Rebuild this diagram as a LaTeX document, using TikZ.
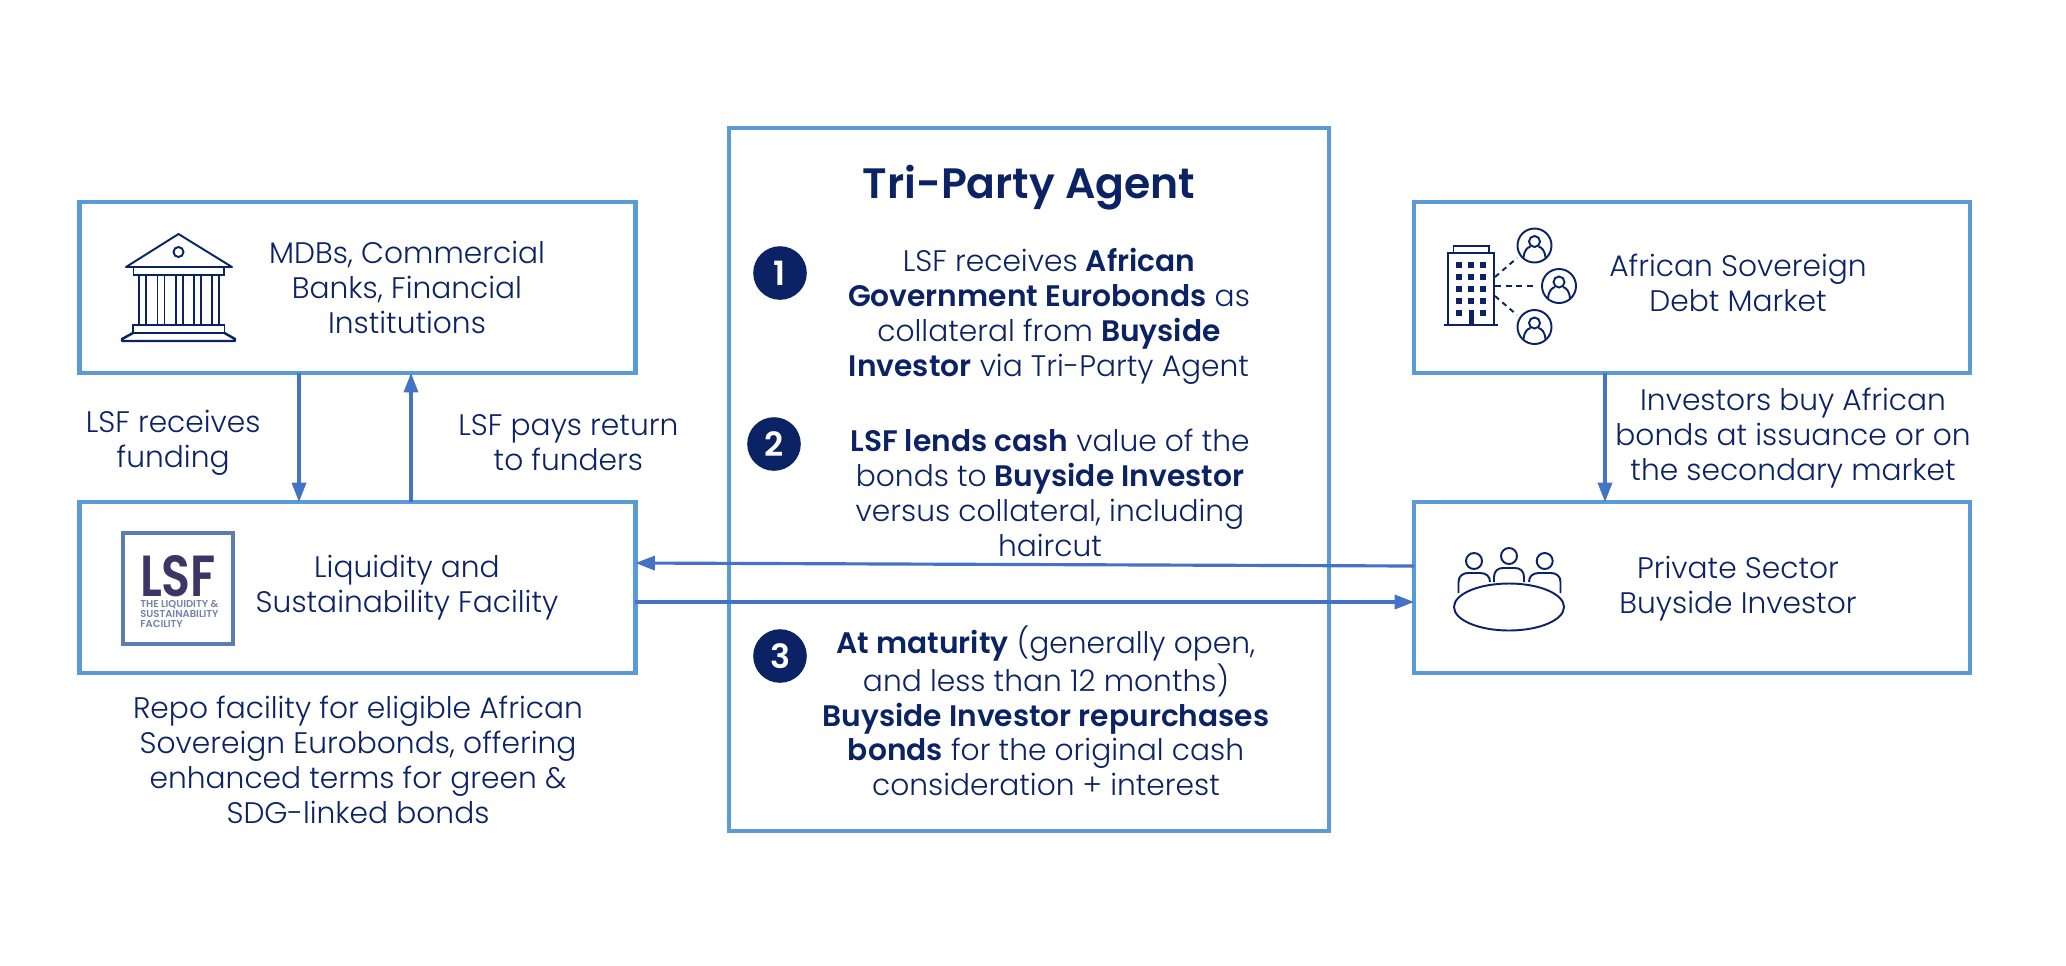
\documentclass[tikz,border=0pt]{standalone}
\usepackage{fontspec}
\setmainfont{Poppins}[UprightFont=* Light,BoldFont=* SemiBold]
\usetikzlibrary{arrows.meta}
\definecolor{navy}{HTML}{0B2365}
\definecolor{panelblue}{HTML}{5B9BD5}
\definecolor{flowblue}{HTML}{4472C4}
\definecolor{logoblue}{HTML}{5B7DB1}
\definecolor{logoname}{HTML}{3D3566}
\definecolor{logogrey}{HTML}{7384A8}
\tikzset{
    panel/.style={shape=rectangle,draw=panelblue,line width=2.6pt,outer sep=0pt},
    boxtext/.style={text=navy,align=center,font=\fontsize{16.9}{19.9}\selectfont},
    flow/.style={draw=flowblue,line width=1.8pt,-{Triangle[length=11pt,width=8pt]}},
    badge/.style={shape=circle,fill=navy,text=white,minimum size=30.5pt,inner sep=0pt,font=\fontsize{19}{19}\selectfont\bfseries},
    icon/.style={draw=navy,line width=1.1pt,fill=none},
    solidicon/.style={fill=navy,draw=none}
}
\begin{document}
\begin{tikzpicture}[x=0.02cm,y=-0.02cm]
    \useasboundingbox (0,0) rectangle (2066,965);

    \node[panel,minimum width=11.12cm,minimum height=3.42cm] (mdb) at (357.5,287.5) {};
    \node[panel,minimum width=11.12cm,minimum height=3.42cm] (lsf) at (357.5,587.5) {};
    \node[panel,minimum width=12cm,minimum height=14.06cm] (agent) at (1029,479.5) {};
    \node[panel,minimum width=11.12cm,minimum height=3.42cm] (market) at (1692,287.5) {};
    \node[panel,minimum width=11.12cm,minimum height=3.42cm] (buyside) at (1692,587.5) {};

    \node[boxtext] (mdbtext) at (407,287) {MDBs, Commercial\\Banks, Financial\\Institutions};
    \node[boxtext] (lsftext) at (407,588) {Liquidity and\\Sustainability Facility};
    \node[boxtext] (markettext) at (1738,283) {African Sovereign\\Debt Market};
    \node[boxtext] (buysidetext) at (1738,589) {Private Sector\\Buyside Investor};
    \node[boxtext] (repotext) at (358,760) {Repo facility for eligible African\\Sovereign Eurobonds, offering\\enhanced terms for green \&\\SDG-linked bonds};

    \node[text=navy,font=\fontsize{24.2}{26}\selectfont\bfseries] (title) at (1029,188) {Tri-Party Agent};
    \node[badge] (one) at (780,273) {1};
    \node[badge] (two) at (774,444) {2};
    \node[badge] (three) at (780,656) {3};
    \node[boxtext] (steptext1) at (1049,316) {LSF receives \textbf{African}\\\textbf{Government Eurobonds} as\\collateral from \textbf{Buyside}\\\textbf{Investor} via Tri-Party Agent};
    \node[boxtext] (steptext2) at (1050,493) {\textbf{LSF lends cash} value of the\\bonds to \textbf{Buyside Investor}\\versus collateral, including\\haircut};
    \node[boxtext] (steptext3) at (1046,711) {\textbf{At maturity} (generally open,\\and less than 12 months)\\\textbf{Buyside Investor repurchases}\\\textbf{bonds} for the original cash\\consideration + interest};

    \coordinate (recv) at (299,437);
    \coordinate (pays) at (411,437);
    \coordinate (buys) at (1605,437);
    \coordinate (lower) at (1000,602);

    \path (mdb.south -| recv) edge [flow] node[left,boxtext,xshift=-0.62cm,yshift=-0.1cm] {LSF receives\\funding} (lsf.north -| recv);
    \path (lsf.north -| pays) edge [flow] node[right,boxtext,xshift=0.8cm,yshift=-0.1cm] {LSF pays return\\to funders} (mdb.south -| pays);
    \path (market.south -| buys) edge [flow] node[right,boxtext,xshift=0.06cm,yshift=-0.02cm] {Investors buy African\\bonds at issuance or on\\the secondary market} (buyside.north -| buys);
    \path ([yshift=0.43cm]buyside.west) edge [flow] ([yshift=0.49cm]lsf.east);
    \path (lsf.east |- lower) edge [flow] (buyside.west |- lower);

    % bank
    \draw[icon,line join=round] (126,267) -- (178.5,234) -- (232,267) -- cycle;
    \draw[icon] (178.5,252) circle (5);
    \draw[icon] (133.5,267) rectangle (224,275);
    \foreach \colx in {139,157.5,176,194,212}
        \draw[icon] (\colx,275) rectangle (\colx+7,325);
    \draw[icon] (133,325) rectangle (224.5,333);
    \draw[icon,line width=1.4pt,line join=round] (133,333) -- (122,339) -- (122,341) -- (235,341) -- (235,339) -- (224.5,333);

    % logo
    \node[shape=rectangle,draw=logoblue,line width=1.9pt,minimum width=2.2cm,minimum height=2.22cm,outer sep=0pt] (logo) at (178,588.5) {};
    \node[text=logoname,font=\fontsize{33}{33}\selectfont\bfseries,inner sep=0pt] (logomark) at (178,576) {\scalebox{.82}[1]{LSF}};
    \node[text=logogrey,anchor=north west,align=left,inner sep=0pt,font=\fontsize{5.7}{5.7}\selectfont\bfseries] (logotext) at (140,600) {THE LIQUIDITY \&\\SUSTAINABILITY\\FACILITY};

    % building and people
    \draw[icon] (1448,253) rectangle (1494,325);
    \draw[icon] (1453.5,253) -- (1453.5,246) -- (1489,246) -- (1489,253);
    \draw[icon,line width=1.4pt] (1444,325) -- (1497.5,325);
    \foreach \winy in {265,277,289,301}
        \foreach \winx in {1459,1471,1483}
            \fill[solidicon] (\winx-3,\winy-3) rectangle (\winx+3,\winy+3);
    \fill[solidicon] (1456,310) rectangle (1462,316);
    \fill[solidicon] (1480,310) rectangle (1486,316);
    \fill[solidicon] (1468.5,310) rectangle (1473.5,325);
    \foreach \px/\py in {1534.5/245.5,1559/286,1534.5/327}{
        \draw[icon] (\px,\py) circle (17);
        \draw[icon] (\px,\py-4) circle (5.5);
        \draw[icon] (\px-11,\py+12) .. controls (\px-10,\py+4) and (\px-7,\py+2) .. (\px-4,\py+1);
        \draw[icon] (\px+11,\py+12) .. controls (\px+10,\py+4) and (\px+7,\py+2) .. (\px+4,\py+1);
    }
    \draw[icon,dash pattern=on 3pt off 2.5pt] (1495,277) -- (1517,258);
    \draw[icon,dash pattern=on 3.5pt off 2.5pt] (1495,286) -- (1537,286);
    \draw[icon,dash pattern=on 3pt off 2.5pt] (1495,296) -- (1517,315);

    % table and people
    \draw[icon] (1509,607) ellipse (55 and 23.5);
    \foreach \px/\py in {1474/561,1509/556,1544.7/561}
        \draw[icon] (\px,\py) circle (8);
    \draw[icon] (1458.5,593) -- (1458.5,582) .. controls (1458.5,576) and (1463,573) .. (1468,573) -- (1480,573) .. controls (1486,573) and (1490,576) .. (1490,582);
    \draw[icon] (1494,582) -- (1494,577) .. controls (1494,571) and (1498,568) .. (1503,568) -- (1515,568) .. controls (1520,568) and (1524,571) .. (1524,577) -- (1524,582);
    \draw[icon] (1560.5,593) -- (1560.5,582) .. controls (1560.5,576) and (1556,573) .. (1551,573) -- (1539,573) .. controls (1533,573) and (1529,576) .. (1529,582);
\end{tikzpicture}
\end{document}
